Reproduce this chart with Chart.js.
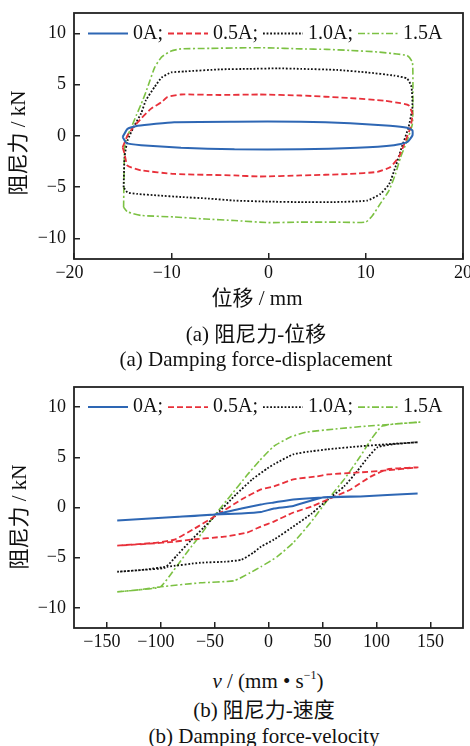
<!DOCTYPE html>
<html>
<head>
<meta charset="utf-8">
<script src="https://cdn.jsdelivr.net/npm/chart.js@4.4.1/dist/chart.umd.min.js"></script>
<style>
body{margin:0;background:#fff;width:470px;height:746px;position:relative;overflow:hidden;font-family:"Liberation Serif","Noto Sans CJK SC",serif;color:#111}
canvas{position:absolute;left:0}
.t{position:absolute;transform:translate(-50%,-50%);white-space:nowrap;line-height:1;font-size:21px}
.rot{transform:translate(-50%,-50%) rotate(-90deg)}
sup{font-size:12px;vertical-align:9px;line-height:0}
</style>
</head>
<body>
<canvas id="c1" width="470" height="290" style="top:0"></canvas>
<canvas id="c2" width="470" height="280" style="top:375px"></canvas>

<div class="t rot" style="left:18px;top:143px">阻尼力 / kN</div>
<div class="t" style="left:257px;top:298px">位移 / mm</div>
<div class="t" style="left:256px;top:334px">(a) 阻尼力-位移</div>
<div class="t" style="left:256px;top:359px">(a) Damping force-displacement</div>

<div class="t rot" style="left:19px;top:517px">阻尼力 / kN</div>
<div class="t" style="left:268px;top:681px"><i>v</i> / (mm • s<sup>−1</sup>)</div>
<div class="t" style="left:264px;top:710px">(b) 阻尼力-速度</div>
<div class="t" style="left:264px;top:736px">(b) Damping force-velocity</div>

<script>
// tick labels
var dispTicks = [-20, -10, 0, 10, 20];
var velTicks = [-150, -100, -50, 0, 50, 100, 150];
var forceTicks = [-10, -5, 0, 5, 10];
var currents = ['0A;', '0.5A;', '1.0A;', '1.5A'];

// (a) force vs displacement, one closed loop per current
var disp0 = [-15.0, -14.5, -13.45, -9.7, -3.5, 3.3, 8.4, 12.5, 14.26, 14.8, 14.8, 14.26, 12.9, 9.1, 3.3, -3.5, -9.0, -13.1, -14.6, -15.0];
var force0 = [-0.1, 0.7, 1.0, 1.35, 1.4, 1.4, 1.25, 1.0, 0.8, 0.55, 0.05, -0.6, -0.9, -1.15, -1.3, -1.3, -1.15, -0.9, -0.7, -0.1];

var disp05 = [-15.0, -14.5, -13.9, -13.1, -12.1, -11.0, -10.4, -9.0, -5, -1, 3.3, 8.4, 11.9, 13.57, 14.4, 14.8, 14.6, 14.1, 13.4, 12.5, 11.2, 8.4, 3.3, -1, -3.5, -9.7, -13.1, -14.5, -14.8, -15.0];
var force05 = [-1.1, 0.05, 0.85, 1.7, 2.65, 3.3, 3.8, 4.05, 4.0, 4.05, 3.95, 3.7, 3.45, 3.2, 3.0, 2.15, 0.85, -0.45, -2.05, -3.05, -3.5, -3.7, -3.85, -3.95, -3.85, -3.7, -3.35, -2.9, -1.75, -1.1];

var disp10 = [-14.9, -14.8, -14.5, -13.8, -13.1, -12.6, -11.7, -11.0, -10.0, -8.6, -5, -2, 1, 3.3, 7, 10.15, 12.9, 14.26, 14.7, 14.8, 14.4, 13.7, 13.06, 12.4, 11.5, 10.15, 6.7, 3.3, 0, -3.5, -6.2, -9, -11.4, -13.5, -14.5, -14.9];
var force10 = [-5.0, -2.05, -0.45, 1.0, 2.2, 3.5, 4.8, 5.7, 6.2, 6.3, 6.5, 6.55, 6.6, 6.55, 6.45, 6.2, 5.9, 5.6, 4.8, 2.8, 0.85, -1.1, -3.0, -4.7, -5.65, -6.3, -6.45, -6.45, -6.4, -6.3, -6.1, -5.95, -5.8, -5.65, -5.5, -5.0];

var disp15 = [-14.9, -14.8, -14.6, -14.1, -13.6, -13.1, -12.6, -12.2, -11.7, -11.0, -10.0, -9.0, -6, -3, 0, 3.3, 6, 8.4, 11.2, 13.2, 14.26, 14.8, 14.85, 14.8, 14.26, 13.57, 13.06, 12.4, 11.5, 10.7, 10.0, 6.7, 3.3, 0, -3.5, -6.5, -9.7, -13.1, -14.5, -14.9];
var force15 = [-6.95, -1.1, -0.2, 0.85, 2.0, 3.1, 4.3, 5.4, 6.7, 7.7, 8.3, 8.5, 8.55, 8.6, 8.6, 8.5, 8.45, 8.35, 8.2, 8.0, 7.85, 7.2, 4.4, 1.2, -0.45, -2.1, -3.7, -5.3, -6.6, -7.75, -8.4, -8.4, -8.4, -8.45, -8.25, -8.1, -7.9, -7.75, -7.4, -6.95];

// (b) force vs velocity, out and back
var vel0 = [-140, -87, -50, -25, -7, 5, 23, 50, 85, 110, 138, 110, 85, 50, 23, 5, -7, -25, -50, -87, -140];
var vforce0 = [-1.3, -0.95, -0.7, -0.1, 0.3, 0.5, 0.8, 1.0, 1.1, 1.25, 1.4, 1.25, 1.1, 1.0, 0.15, -0.1, -0.45, -0.6, -0.7, -0.95, -1.3];

var vel05 = [-140, -115, -103, -87, -70, -50, -25, -7, 5, 23, 45, 55, 85, 110, 138, 120, 110, 95, 76, 55, 40, 23, 5, -7, -20, -41, -72, -87, -110, -140];
var vforce05 = [-3.8, -3.6, -3.5, -3.2, -2.2, -0.9, 0.8, 1.8, 2.1, 2.8, 3.1, 3.3, 3.5, 3.7, 4.0, 3.9, 3.8, 3.1, 1.8, 0.8, 0.1, -0.5, -1.4, -1.9, -2.5, -2.9, -3.2, -3.4, -3.6, -3.8];

var vel10 = [-140, -115, -96, -85, -72, -60, -50, -30, -15, -1, 5, 23, 40, 55, 85, 110, 138, 115, 101, 92, 82, 70, 55, 40, 23, 5, -7, -14, -25, -40, -63, -94, -115, -140];
var vforce10 = [-6.4, -6.2, -6.0, -4.8, -3.3, -2.0, -0.9, 1.3, 2.8, 3.9, 4.3, 5.3, 5.6, 5.8, 6.1, 6.3, 6.5, 6.3, 6.0, 5.0, 3.6, 2.1, 0.8, -0.6, -1.9, -3.2, -3.9, -4.5, -5.2, -5.4, -5.5, -5.9, -6.2, -6.4];

var vel15 = [-140, -120, -100, -88, -75, -62, -50, -35, -20, -8, 5, 20, 35, 60, 90, 115, 140, 120, 105, 95, 85, 70, 55, 39, 23, 8, -7, -17, -32, -63, -100, -120, -140];
var vforce15 = [-8.4, -8.2, -7.9, -6.3, -4.4, -2.6, -0.8, 1.2, 3.2, 4.7, 6.1, 7.0, 7.5, 7.8, 8.1, 8.3, 8.5, 8.35, 8.1, 6.8, 5.1, 2.8, 0.8, -1.5, -3.5, -4.9, -5.9, -6.5, -7.3, -7.5, -7.9, -8.2, -8.4];

// line styles, same order as currents
var colors = ['#2e67b4', '#e8303a', '#111111', '#7cc143'];
var dashes = [[], [6, 3], [1.8, 1.8], [7, 2.5, 2, 2.5]];
var widths = [2, 1.8, 1.8, 1.6];

var FONT = '"Liberation Serif", "Times New Roman", serif';

function pts(xs, ys) {
  return xs.map(function (x, i) { return {x: x, y: ys[i]}; });
}

function sets(pairs) {
  return pairs.map(function (p, i) {
    return {
      label: currents[i],
      data: pts(p[0], p[1]),
      showLine: true,
      borderColor: colors[i],
      borderWidth: widths[i],
      borderDash: dashes[i],
      pointRadius: 0,
      tension: 0.15,
      fill: false
    };
  });
}

function minus(v) { return v < 0 ? '\u2212' + (-v) : '' + v; }

// legend inside the plot + frame round the chart area
var frameLegend = {
  id: 'frameLegend',
  afterDatasetsDraw: function (chart) {
    var ctx = chart.ctx, a = chart.chartArea;
    ctx.save();
    var y = chart.scales.y.getPixelForValue(10);
    var x = a.left + 14;
    ctx.font = '20px ' + FONT;
    ctx.textBaseline = 'middle';
    chart.data.datasets.forEach(function (ds) {
      ctx.beginPath();
      ctx.setLineDash(ds.borderDash);
      ctx.strokeStyle = ds.borderColor;
      ctx.lineWidth = ds.borderWidth;
      ctx.moveTo(x, y);
      ctx.lineTo(x + 40, y);
      ctx.stroke();
      x += 45;
      ctx.fillStyle = '#111';
      ctx.fillText(ds.label, x, y);
      x += ctx.measureText(ds.label).width + 5;
    });
    ctx.setLineDash([]);
    ctx.strokeStyle = '#222';
    ctx.lineWidth = 1.8;
    ctx.strokeRect(a.left, a.top, a.right - a.left, a.bottom - a.top);
    ctx.restore();
  }
};

function makeChart(id, datasets, xmin, xmax, xticks, padTop, xH) {
  return new Chart(document.getElementById(id), {
    type: 'scatter',
    data: {datasets: datasets},
    plugins: [frameLegend],
    options: {
      responsive: false,
      animation: false,
      events: [],
      layout: {padding: {left: 0, right: 7, top: padTop, bottom: 0}},
      plugins: {legend: {display: false}, tooltip: {enabled: false}},
      scales: {
        x: {
          type: 'linear', min: xmin, max: xmax,
          afterBuildTicks: function (s) { s.ticks = xticks.map(function (v) { return {value: v}; }); },
          afterFit: function (s) { s.height = xH; s.paddingLeft = 0; s.paddingRight = 0; },
          grid: {drawOnChartArea: false, drawTicks: true, tickLength: -6, color: '#222', lineWidth: 1.5},
          border: {display: false},
          ticks: {
            autoSkip: false, maxRotation: 0, padding: 9.5, color: '#111',
            font: {family: FONT, size: 18},
            callback: function (v) { return v < 0 ? minus(v) + '\u2002' : '' + v; }
          }
        },
        y: {
          type: 'linear', min: -12, max: 12,
          afterBuildTicks: function (s) { s.ticks = forceTicks.map(function (v) { return {value: v}; }); },
          afterFit: function (s) { s.width = 74; s.paddingTop = 0; s.paddingBottom = 0; },
          grid: {drawOnChartArea: false, drawTicks: true, tickLength: -6, color: '#222', lineWidth: 1.5},
          border: {display: false},
          ticks: {
            padding: 14, color: '#111',
            font: {family: FONT, size: 18},
            callback: minus
          }
        }
      }
    }
  });
}

makeChart('c1', sets([[disp0, force0], [disp05, force05], [disp10, force10], [disp15, force15]]),
  -20, 20, dispTicks, 13, 31);
makeChart('c2', sets([[vel0, vforce0], [vel05, vforce05], [vel10, vforce10], [vel15, vforce15]]),
  -180, 180, velTicks, 12, 27);
</script>
</body>
</html>
